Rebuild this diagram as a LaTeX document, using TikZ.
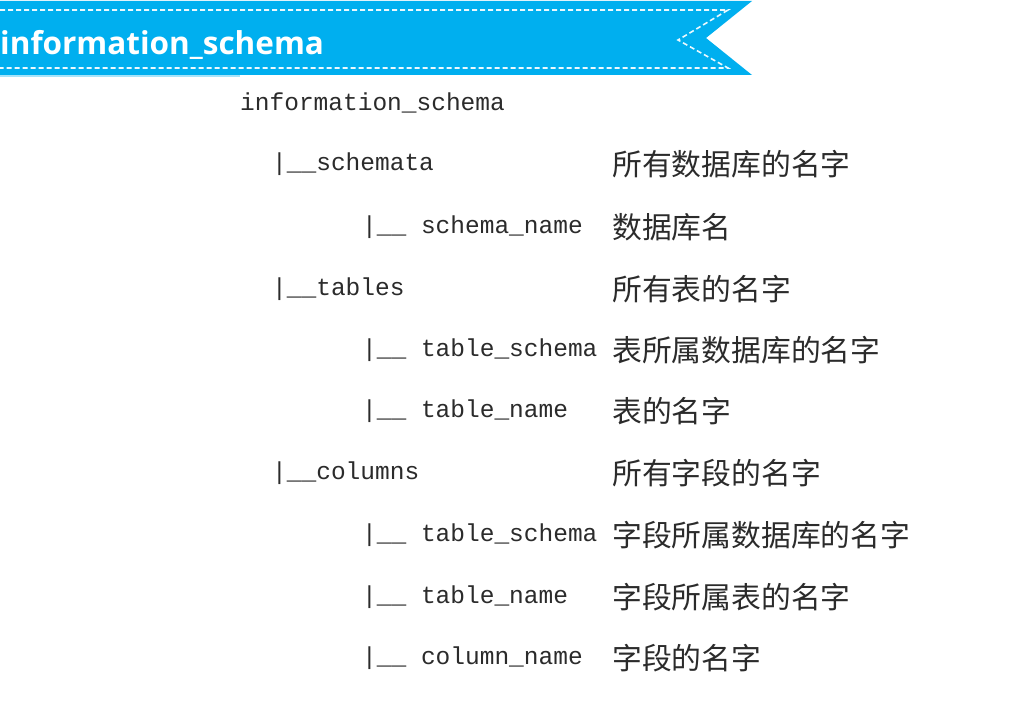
\documentclass[tikz,border=0pt]{standalone}
\usepackage{fontspec}
\usepackage{tikz}
\setmonofont{Liberation Mono}
\newfontfamily\cjk{Noto Sans CJK SC}
\newfontfamily\bannerfont{Open Sans}
\definecolor{bannerblue}{HTML}{00AFEF}
\definecolor{ink}{HTML}{2B2B2B}
\tikzset{stitch/.style={white!92!bannerblue, line width=1.6pt, dash pattern=on 5pt off 3pt}}
\tikzset{code/.style={anchor=west, inner sep=0pt, text=ink, font=\ttfamily\fontsize{24.5}{26}\selectfont}}
\tikzset{note/.style={anchor=west, inner sep=0pt, text=ink, font=\cjk\fontsize{29.8}{31}\selectfont}}

\begin{document}
\begin{tikzpicture}[x=1pt, y=-1pt]
	\useasboundingbox[fill=white] (0,0) rectangle (1016,722);

	% Banner
	\fill[bannerblue!35] (0,73) rectangle (240,77);
	\fill[bannerblue] (0,1) -- (752,1) -- (706,38) -- (752,75) -- (0,75) -- cycle;
	\coordinate (stitchleft) at (0,10);		\coordinate (stitchtop) at (728,10);
	\coordinate (stitchtip) at (678,40);
	\coordinate (stitchbottomleft) at (0,68);	\coordinate (stitchbottom) at (728,68);
	\draw[stitch] (stitchleft) -- (stitchtop) -- (stitchtip) -- (stitchbottom) -- (stitchbottomleft);
	\node[anchor=west, inner sep=0pt, text=white, font=\bannerfont\bfseries\fontsize{31.5}{33}\selectfont] (banner) at (0,45) {information\_schema};

	% Tree
	\node[code] (root) at (240,103) {information\_schema};

	\node[code] (schemata) at (272,164) {|\_\_schemata};
	\node[code] (schemaname) at (362,227) {|\_\_ schema\_name};

	\node[code] (tables) at (272,289) {|\_\_tables};
	\node[code] (tabschema) at (362,350) {|\_\_ table\_schema};
	\node[code] (tabname) at (362,411) {|\_\_ table\_name};

	\node[code] (columns) at (272,473) {|\_\_columns};
	\node[code] (colschema) at (362,535) {|\_\_ table\_schema};
	\node[code] (coltable) at (362,597) {|\_\_ table\_name};
	\node[code] (colname) at (362,658) {|\_\_ column\_name};

	% Notes
	\node[note] (schematanote) at (612,164) {所有数据库的名字};
	\node[note] (schemanamenote) at (612,227) {数据库名};
	\node[note] (tablesnote) at (612,289) {所有表的名字};
	\node[note] (tabschemanote) at (612,350) {表所属数据库的名字};
	\node[note] (tabnamenote) at (612,411) {表的名字};
	\node[note] (columnsnote) at (612,473) {所有字段的名字};
	\node[note] (colschemanote) at (612,535) {字段所属数据库的名字};
	\node[note] (coltablenote) at (612,597) {字段所属表的名字};
	\node[note] (colnamenote) at (612,658) {字段的名字};
\end{tikzpicture}
\end{document}
